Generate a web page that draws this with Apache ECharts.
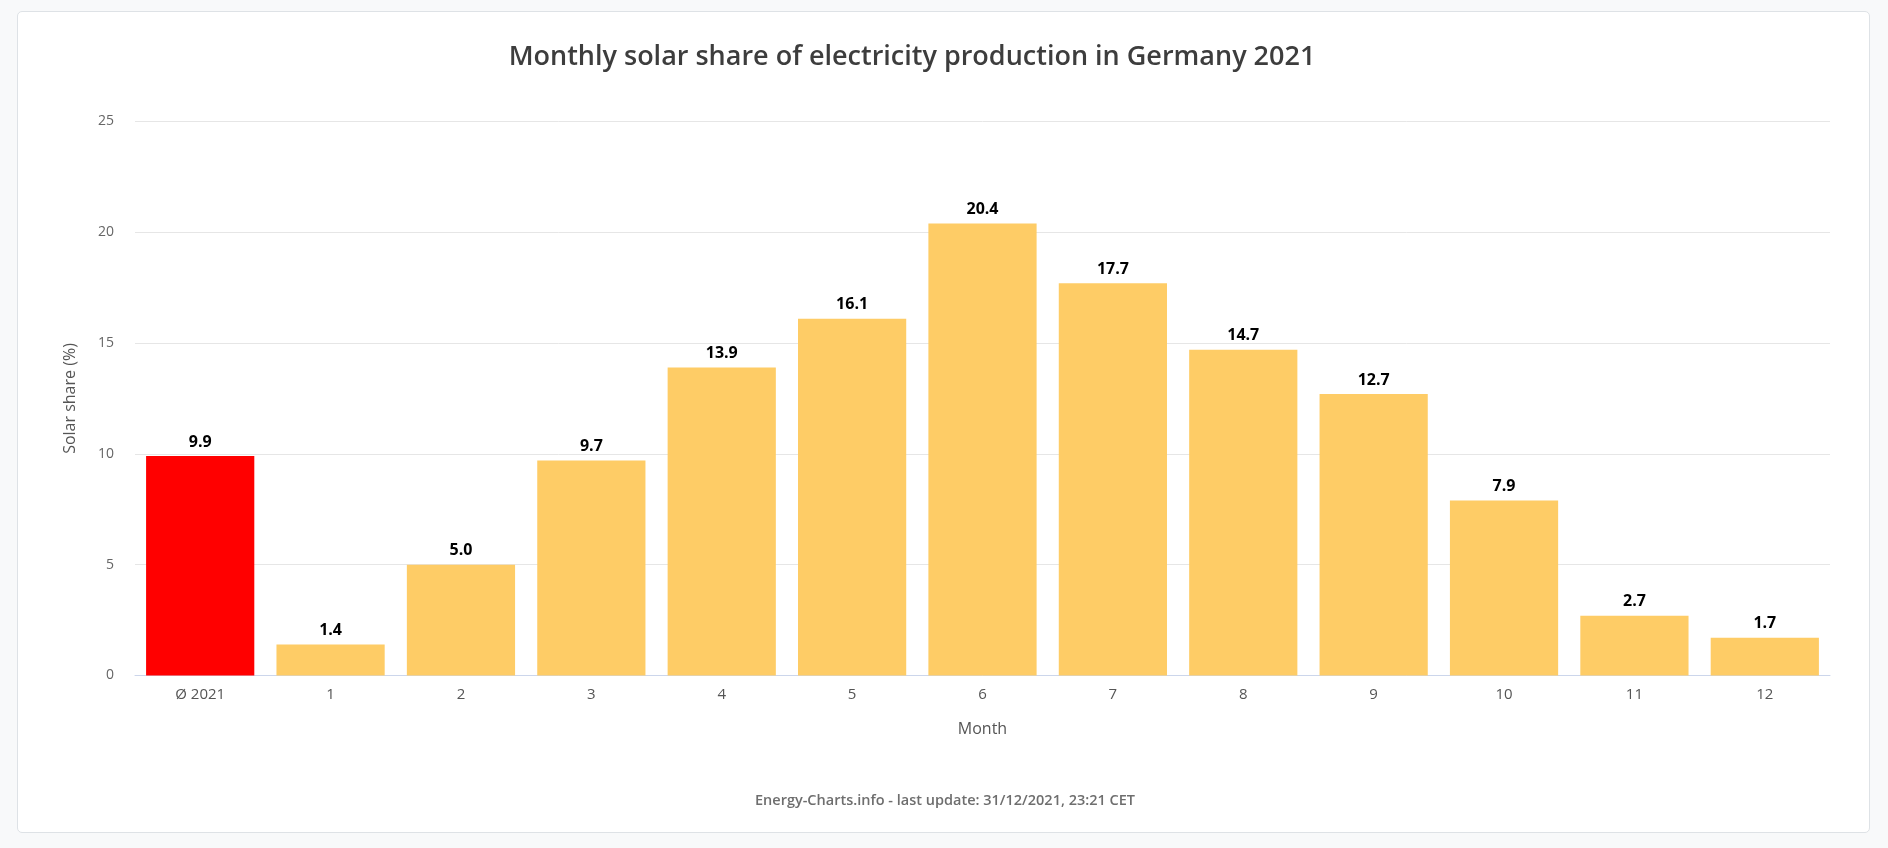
<!DOCTYPE html>
<html>
<head>
<meta charset="utf-8">
<script src="https://cdn.jsdelivr.net/npm/echarts@6/dist/echarts.min.js"></script>
<style>
html,body{margin:0;padding:0;width:1888px;height:848px;background:#f8f9fa;overflow:hidden;}
#card{position:absolute;left:17px;top:11px;width:1851px;height:820px;background:#fff;border:1px solid #dee2e6;border-radius:5px;}
#chart{position:absolute;left:0;top:0;width:1888px;height:848px;}
</style>
</head>
<body>
<div id="card"></div>
<div id="chart"></div>
<script>
var categories = ['Ø 2021','1','2','3','4','5','6','7','8','9','10','11','12'];
var solarShare = [9.9, 1.4, 5.0, 9.7, 13.9, 16.1, 20.4, 17.7, 14.7, 12.7, 7.9, 2.7, 1.7];
var yTicks = [0, 5, 10, 15, 20, 25];
var titleText = 'Monthly solar share of electricity production in Germany 2021';
var footerText = 'Energy-Charts.info - last update: 31/12/2021, 23:21 CET';

var FONT = '"Open Sans", "Noto Sans", sans-serif';
var chart = echarts.init(document.getElementById('chart'), null, {renderer:'canvas'});
var option = {
  backgroundColor: 'transparent',
  animation: false,
  textStyle: {fontFamily: FONT},
  title: [{
    text: titleText,
    left: 907, top: 39, textAlign: 'center',
    textStyle: {fontFamily: FONT, fontSize: 27, fontWeight: 600, color: '#3d3d3d'}
  }, {
    text: footerText,
    left: 940, top: 788, textAlign: 'center',
    textStyle: {fontFamily: FONT, fontSize: 14.5, fontWeight: 600, color: '#6e6e6e'}
  }],
  grid: {left: 135, right: 58, top: 121.5, bottom: 172.5, containLabel: false},
  xAxis: {
    type: 'category',
    data: categories,
    name: 'Month',
    nameLocation: 'middle',
    nameGap: 46,
    nameTextStyle: {fontFamily: FONT, fontSize: 16, color: '#555'},
    axisLine: {lineStyle: {color: '#ccd6eb', width: 1}},
    axisTick: {show: false},
    axisLabel: {fontFamily: FONT, fontSize: 15, color: '#555', margin: 12}
  },
  yAxis: {
    type: 'value',
    min: 0, max: 25, interval: 5,
    name: 'Solar share (%)',
    nameLocation: 'middle',
    nameGap: 57,
    nameTextStyle: {fontFamily: FONT, fontSize: 16, color: '#555'},
    axisLine: {show: false},
    axisTick: {show: false},
    axisLabel: {fontFamily: FONT, fontSize: 14, color: '#666', margin: 21,
      formatter: function(v){ return yTicks.indexOf(v) >= 0 ? String(v) : ''; }},
    splitLine: {lineStyle: {color: '#e6e6e6', width: 1}}
  },
  series: [{
    type: 'bar',
    data: solarShare.map(function(v, i){
      return {value: v, itemStyle: {color: i === 0 ? '#ff0000' : '#fecc66'}};
    }),
    barCategoryGap: '17%',
    label: {
      show: true, position: 'top', distance: 6,
      fontFamily: FONT, fontSize: 16, fontWeight: 'bold', color: '#000',
      textBorderColor: '#fff', textBorderWidth: 2,
      formatter: function(p){ return p.value.toFixed(1); }
    }
  }]
};
chart.setOption(option);
</script>
</body>
</html>
